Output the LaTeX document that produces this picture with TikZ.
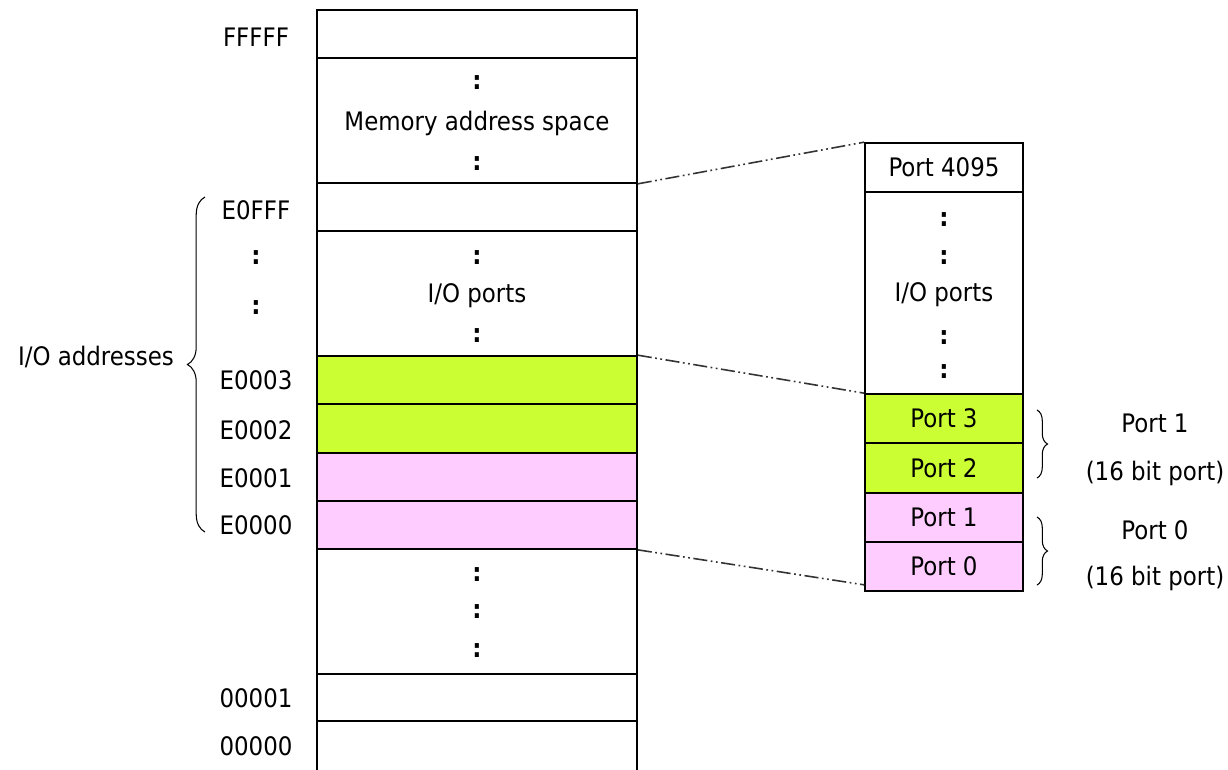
\documentclass[tikz,border=0pt]{standalone}
\usepackage{fontspec}
\setmainfont{DejaVu Sans Condensed}
\usetikzlibrary{decorations.pathreplacing}
\definecolor{iogreen}{RGB}{204,255,51}
\definecolor{iopink}{RGB}{255,204,255}
\begin{document}
\begin{tikzpicture}[x=0.02cm,y=-0.02cm,line width=0.95pt,font=\fontsize{14.5}{17}\selectfont,
	cell/.style={draw,inner sep=0pt,minimum width=6.4cm},
	pcell/.style={draw,inner sep=0pt,minimum width=3.16cm},
	dotc/.style={font=\fontsize{14.5}{17}\selectfont\bfseries},
	link/.style={line width=0.9pt,color=black!80,dash pattern=on 8pt off 2pt on 1pt off 2pt on 1pt off 2pt},
	brc/.style={decorate,decoration={brace,amplitude=#1},line width=0.6pt}]
	\useasboundingbox[fill=white] (0,0) rectangle (1228,769);
	% memory map
	\foreach \nm/\a/\b/\col in {rF/10/58/white,mem/58/183/white,rE/183/231/white,io/231/356/white,
		e3/356/404/iogreen,e2/404/453/iogreen,e1/453/501/iopink,e0/501/549/iopink,
		low/549/674/white,a1/674/721/white,a0/721/775/white}
		\node[cell,fill=\col,minimum height={(\b-\a)*0.02cm}] (\nm) at (477,{(\a+\b)/2}) {};
	\node (memtxt) at (477,123) {Memory address space};
	\node (iotxt) at (477,296) {I/O ports};
	\foreach \y in {83,164,258,336,575,612,651}
		\node[dotc] (dot\y) at (477,\y) {:};
	% addresses
	\foreach \t/\y in {FFFFF/37,E0FFF/210,E0003/380,E0002/430,E0001/478,E0000/525,00001/698,00000/746}
		\node (adr\y) at (256,\y) {\t};
	\foreach \y in {258,308}
		\node[dotc] (adr\y) at (256,\y) {:};
	\draw[brc=10pt] (205,532) -- (205,197);
	\node (ioaddr) at (96,357) {I/O addresses};
	% port space
	\foreach \nm/\a/\b/\col/\t in {p4095/143/192/white/Port 4095,pio/192/394/white/,
		p3/394/443/iogreen/Port 3,p2/443/493/iogreen/Port 2,p1/493/542/iopink/Port 1,p0/542/591/iopink/Port 0}
		\node[pcell,fill=\col,minimum height={(\b-\a)*0.02cm}] (\nm) at (944,{(\a+\b)/2}) {\t};
	\node (piotxt) at (944,295) {I/O ports};
	\foreach \y in {220,258,338,372}
		\node[dotc] (pdot\y) at (944,\y) {:};
	\draw[link] (mem.south east) -- (p4095.north west);
	\draw[link] (e3.north east) -- (p3.north west);
	\draw[link] (e0.south east) -- ([yshift=0.14cm]p0.south west);
	% 16 bit ports
	\draw[brc=6pt] (1037,410) -- (1037,478);
	\draw[brc=6pt] (1037,517) -- (1037,585);
	\node (w1) at (1155,423) {Port 1};
	\node (w1b) at (1155,473) {(16 bit port)};
	\node (w0) at (1155,530) {Port 0};
	\node (w0b) at (1155,578) {(16 bit port)};
\end{tikzpicture}
\end{document}
